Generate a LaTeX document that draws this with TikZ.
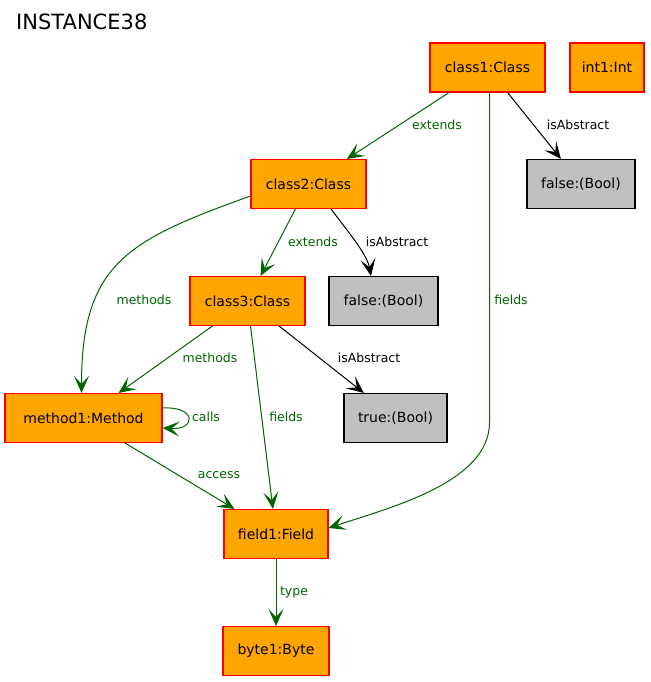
\documentclass[tikz,border=0pt]{standalone}
\usepackage{fontspec}
\setmainfont{DejaVu Sans}
\usetikzlibrary{arrows.meta}
\definecolor{gvorange}{RGB}{255,165,0}
\definecolor{gvgray}{RGB}{192,192,192}
\definecolor{gvgreen}{RGB}{0,100,0}
\begin{document}
\begin{tikzpicture}[x=1pt,y=-1pt,
  obj/.style={draw=red, fill=gvorange, line width=1.1pt, minimum height=49pt, inner sep=0pt, font=\fontsize{14}{16}\selectfont},
  val/.style={draw=black, fill=gvgray, line width=1.1pt, minimum height=49pt, inner sep=0pt, font=\fontsize{14}{16}\selectfont},
  g/.style={draw=gvgreen, line width=1pt, -{Stealth[length=17pt,width=15pt,inset=8pt]}},
  k/.style={draw=black, line width=1pt, -{Stealth[length=17pt,width=15pt,inset=8pt]}},
  gl/.style={text=gvgreen, font=\fontsize{12.5}{14}\selectfont, inner sep=0pt},
  kl/.style={text=black, font=\fontsize{12.5}{14}\selectfont, inner sep=0pt},
]
\useasboundingbox (0,0) rectangle (650,682);
\node[anchor=west, font=\fontsize{21}{24}\selectfont, inner sep=0pt] (title) at (16,22) {INSTANCE38};

\node[obj, minimum width=115pt] (class1) at (487.5,67.5) {class1:Class};
\node[obj, minimum width=74pt] (int1) at (607,67.5) {int1:Int};
\node[obj, minimum width=115pt] (class2) at (308.5,184) {class2:Class};
\node[val, minimum width=108pt] (false1) at (581,184) {false:(Bool)};
\node[obj, minimum width=115pt] (class3) at (247.5,301) {class3:Class};
\node[val, minimum width=109pt] (false2) at (383.5,301) {false:(Bool)};
\node[obj, minimum width=157pt] (method1) at (83.5,418) {method1:Method};
\node[val, minimum width=103pt] (true1) at (395.5,418) {true:(Bool)};
\node[obj, minimum width=104pt] (field1) at (276,534) {field1:Field};
\node[obj, minimum width=106pt] (byte1) at (276,651) {byte1:Byte};

\draw[g] (class1) -- (class2);
\draw[k] (class1) -- (false1);
\draw[g] ([xshift=2pt]class1.south) -- ++(0,330) .. controls +(0,60) and +(60,-20) .. ([yshift=6pt]field1.east);
\draw[g] ([yshift=-12pt]class2.west) .. controls +(-122,44) and +(0,-130) .. ([xshift=-2pt]method1.north);
\draw[g] (class2) -- (class3);
\draw[k] ([xshift=22.5pt]class2.south) .. controls +(15,20) and +(-4,-22) .. ([xshift=-12.5pt]false2.north);
\draw[g] (class3) -- (method1);
\draw[g] (class3) -- (field1);
\draw[k] (class3) -- (true1);
\draw[g] ([yshift=10pt]method1.east) .. controls +(34,-2) and +(34,2) .. ([yshift=-10pt]method1.east);
\draw[g] (method1) -- (field1);
\draw[g] (field1) -- (byte1);

\node[gl] (l1) at (437,125) {extends};
\node[kl] (l2) at (578,125) {isAbstract};
\node[gl] (l3) at (511,300) {fields};
\node[gl] (l4) at (144,300) {methods};
\node[gl] (l5) at (313,242) {extends};
\node[kl] (l6) at (397,242) {isAbstract};
\node[gl] (l7) at (210,358) {methods};
\node[kl] (l8) at (369,358) {isAbstract};
\node[gl] (l9) at (206,417) {calls};
\node[gl] (l10) at (286,417) {fields};
\node[gl] (l11) at (219,475) {access};
\node[gl] (l12) at (294,592) {type};
\end{tikzpicture}
\end{document}
